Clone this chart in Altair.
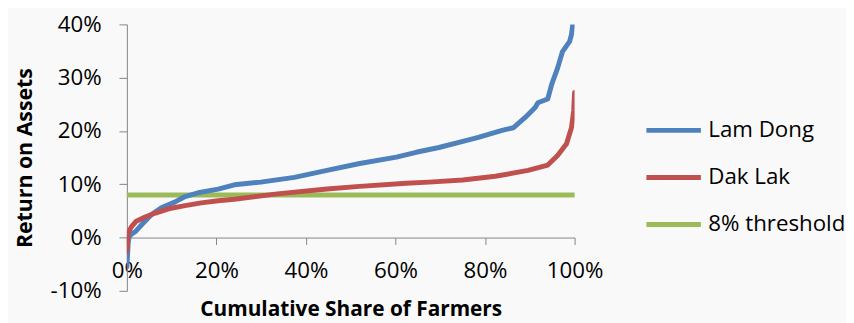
import altair as alt
import pandas as pd

# Cumulative share of farmers (%) and return on assets (%)
lam_x = [0, 0.3, 0.5, 1, 2, 3.3, 5.5, 7.7, 10.8, 13, 15.9, 20.4, 24, 29.9, 37.4, 44.7,
         52, 60.2, 64.6, 69.7, 75.7, 78.5, 83.8, 86.3, 88.9, 91.2, 91.8, 94.0, 94.9,
         96.2, 97.3, 98.9, 99.3, 99.6]
lam_y = [-5.5, -1, 0.2, 0.6, 1.2, 2.4, 4.3, 5.6, 6.7, 7.7, 8.4, 9.1, 9.9, 10.4, 11.3, 12.6,
         13.9, 15.1, 16.0, 16.9, 18.2, 18.8, 20.1, 20.6, 22.5, 24.4, 25.3, 26.0, 28.8,
         31.8, 34.9, 36.8, 38.1, 40.0]

dak_x = [0, 0.2, 0.4, 1, 2, 4.2, 6.4, 9.3, 13, 16.6, 20.4, 24, 33.6, 44.7, 52, 62.4,
         67.5, 75, 82.3, 89.6, 94, 96.2, 98.2, 99.3, 99.8, 100]
dak_y = [-2.6, 0, 1.1, 2.0, 3.0, 3.9, 4.6, 5.4, 6.0, 6.5, 6.9, 7.2, 8.2, 9.1, 9.6, 10.2,
         10.4, 10.8, 11.5, 12.6, 13.6, 15.4, 17.6, 20.6, 23.8, 27.2]

thr_x = [0, 100]
thr_y = [8, 8]

series = ["Lam Dong", "Dak Lak", "8% threshold"]
colors = ["#4F81BD", "#C0504D", "#9BBB59"]

x_ticks = [0, 20, 40, 60, 80, 100]
y_ticks = [-10, 0, 10, 20, 30, 40]

rows = []
for name, xs, ys in [("Lam Dong", lam_x, lam_y), ("Dak Lak", dak_x, dak_y),
                     ("8% threshold", thr_x, thr_y)]:
    for i, (xv, yv) in enumerate(zip(xs, ys)):
        rows.append({"series": name, "share": xv, "roa": yv, "order": i})
df = pd.DataFrame(rows)

FONT = "Open Sans"
AXC = "#868686"

xaxis = alt.Axis(values=x_ticks, labelExpr="datum.value + '%'", title="Cumulative Share of Farmers",
                 grid=False, offset=-53.8, tickSize=7, labelPadding=15, labelFlush=False,
                 labelOverlap=False, labelFont=FONT, labelFontSize=22.5, labelColor="black",
                 titleFont=FONT, titleFontSize=21, titleFontWeight="bold", titleColor="black",
                 titlePadding=17, domainColor=AXC, tickColor=AXC)
yaxis = alt.Axis(values=y_ticks, labelExpr="datum.value + '%'", title="Return on Assets",
                 grid=False, tickSize=8, labelPadding=18, labelFlush=False, labelOverlap=False,
                 labelFont=FONT, labelFontSize=22.5, labelColor="black",
                 titleFont=FONT, titleFontSize=21.5, titleFontWeight="bold", titleColor="black",
                 titlePadding=14, domainColor=AXC, tickColor=AXC)

legend = alt.Legend(orient="none", legendX=522, legendY=84, title=None, symbolType="stroke",
                    symbolSize=3025, symbolStrokeWidth=5, labelFont=FONT, labelFontSize=22.5,
                    labelColor="black", labelOffset=5, clipHeight=46, rowPadding=1.5, padding=0)

color = alt.Color("series:N", scale=alt.Scale(domain=series, range=colors), legend=legend)


def layer(name, width):
    return alt.Chart(df).transform_filter(alt.datum.series == name).mark_line(
        strokeWidth=width, strokeCap="round", strokeJoin="round", clip=True
    ).encode(
        x=alt.X("share:Q", scale=alt.Scale(domain=[0, 100], nice=False), axis=xaxis),
        y=alt.Y("roa:Q", scale=alt.Scale(domain=[-10, 40], nice=False), axis=yaxis),
        order="order:Q",
        color=color,
    )


chart = alt.layer(
    layer("8% threshold", 5), layer("Lam Dong", 5), layer("Dak Lak", 5)
).properties(
    width=452, height=269,
    autosize=alt.AutoSizeParams(type="none"),
    padding={"left": 120, "top": 15, "right": 274, "bottom": 40},
    background="#f9f9f9",
).configure_view(stroke=None)

chart.save("out.html", embed_options={"renderer": "svg", "actions": False})
